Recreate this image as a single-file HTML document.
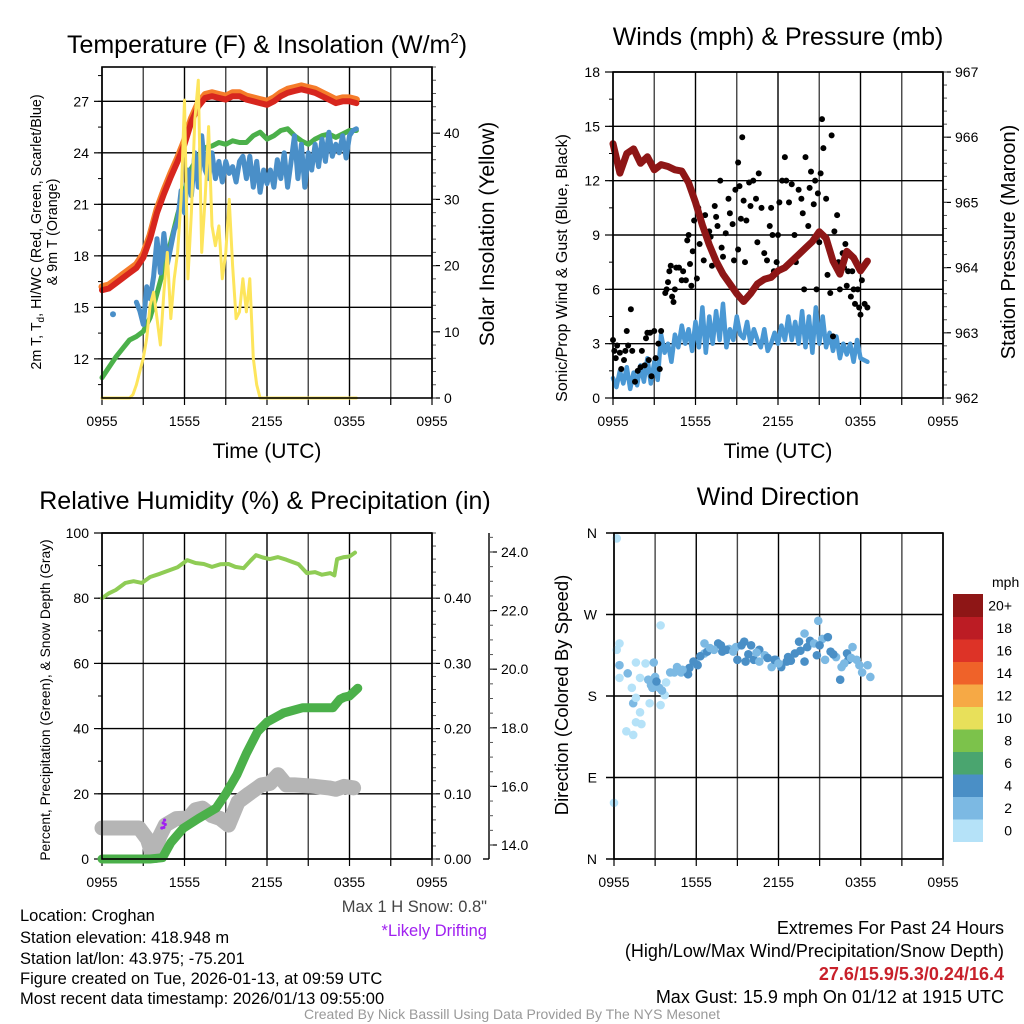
<!DOCTYPE html>
<html><head><meta charset="utf-8">
<style>
html,body{margin:0;padding:0;background:#fff;}
svg{display:block;font-family:"Liberation Sans",Arial,sans-serif;}
</style></head>
<body>
<svg id="c" width="1024" height="1024" viewBox="0 0 1024 1024" xmlns="http://www.w3.org/2000/svg">
<rect x="0" y="0" width="1024" height="1024" fill="#fff"/>
<!-- titles -->
<text x="267" y="53" font-size="25" text-anchor="middle">Temperature (F) &amp; Insolation (W/m<tspan font-size="15" dy="-10">2</tspan><tspan dy="10">)</tspan></text>
<text x="778" y="45" font-size="25" text-anchor="middle">Winds (mph) &amp; Pressure (mb)</text>
<text x="265" y="509" font-size="25" text-anchor="middle">Relative Humidity (%) &amp; Precipitation (in)</text>
<text x="778" y="505" font-size="25" text-anchor="middle">Wind Direction</text>
<!-- axis titles -->
<text x="267" y="458" font-size="21" text-anchor="middle">Time (UTC)</text>
<text x="778" y="458" font-size="21" text-anchor="middle">Time (UTC)</text>
<text transform="translate(41,232) rotate(-90)" font-size="14.3" text-anchor="middle">2m T, T<tspan font-size="10" dy="3">d</tspan><tspan dy="-3">, HI/WC (Red, Green, Scarlet/Blue)</tspan></text>
<text transform="translate(57,232) rotate(-90)" font-size="14.3" text-anchor="middle">&amp; 9m T (Orange)</text>
<text transform="translate(494,234) rotate(-90)" font-size="21" text-anchor="middle">Solar Insolation (Yellow)</text>
<text transform="translate(567,268) rotate(-90)" font-size="16" text-anchor="middle">Sonic/Prop Wind &amp; Gust (Blue, Black)</text>
<text transform="translate(1015,242) rotate(-90)" font-size="20" text-anchor="middle">Station Pressure (Maroon)</text>
<text transform="translate(50,700) rotate(-90)" font-size="13.8" text-anchor="middle">Percent, Precipitation (Green), &amp; Snow Depth (Gray)</text>
<text transform="translate(568,695) rotate(-90)" font-size="18.5" text-anchor="middle">Direction (Colored By Speed)</text>
<!-- footer -->
<g font-size="16.5">
<text x="20" y="921">Location: Croghan</text>
<text x="20" y="943">Station elevation: 418.948 m</text>
<text x="20" y="964">Station lat/lon: 43.975; -75.201</text>
<text x="20" y="984">Figure created on Tue, 2026-01-13, at 09:59 UTC</text>
<text x="20" y="1004">Most recent data timestamp: 2026/01/13 09:55:00</text>
</g>
<text x="487" y="912" font-size="16.5" fill="#444" text-anchor="end">Max 1 H Snow: 0.8"</text>
<text x="487" y="936" font-size="16.5" fill="#a020f0" text-anchor="end">*Likely Drifting</text>
<g font-size="18" text-anchor="end">
<text x="1004" y="934">Extremes For Past 24 Hours</text>
<text x="1004" y="957">(High/Low/Max Wind/Precipitation/Snow Depth)</text>
<text x="1004" y="980" fill="#c8202a" font-weight="bold">27.6/15.9/5.3/0.24/16.4</text>
<text x="1004" y="1003">Max Gust: 15.9 mph On 01/12 at 1915 UTC</text>
</g>
<text x="512" y="1019" font-size="14" fill="#999" text-anchor="middle">Created By Nick Bassill Using Data Provided By The NYS Mesonet</text>
<g id="plots"></g>
</svg>
<script>
// ---- data (hours since 0955 UTC) ----
const xTickLabels = ["0955","1555","2155","0355","0955"];
const tempHours = [0,0.5,1,1.5,2,2.5,3,3.5,4,4.5,5,5.5,6,6.5,7,7.5,8,8.5,9,9.5,10,10.5,11,11.5,12,12.5,13,13.5,14,14.5,15,15.5,16,16.5,17,17.5,18,18.5];
const temp2m = [16.0,16.1,16.4,16.7,17.0,17.3,17.9,19.0,20.5,21.6,22.6,23.5,24.5,25.8,26.7,27.2,27.3,27.2,27.1,27.3,27.3,27.1,27.0,26.9,26.8,27.0,27.3,27.5,27.6,27.7,27.6,27.5,27.3,27.1,26.9,27.0,27.0,26.9];
const temp9m = [16.2,16.3,16.6,16.9,17.2,17.5,18.1,19.2,20.7,21.8,22.8,23.7,24.7,26.0,26.9,27.4,27.5,27.4,27.3,27.5,27.5,27.3,27.2,27.1,27.0,27.2,27.5,27.7,27.8,27.9,27.8,27.7,27.5,27.3,27.1,27.2,27.2,27.1];
const dewpoint = [10.9,11.5,12.1,12.6,13.1,13.3,13.6,14.4,15.8,17.3,18.8,20.4,21.8,23.1,23.8,24.3,24.4,24.6,24.5,24.7,24.6,24.6,25.0,25.2,24.8,25.0,25.3,25.4,25.0,24.7,24.5,24.8,25.0,25.1,24.9,25.1,25.3,25.3];
const wcStart = 2.5, wcStep = 0.25;
const windChill = [15.3,14.8,14.0,16.2,15.5,16.8,19.0,17.0,19.3,17.5,18.5,19.5,20.0,21.8,20.5,23.0,21.5,24.0,22.0,25.0,23.0,22.5,24.0,22.5,23.5,22.3,23.5,22.8,23.2,22.3,23.5,23.8,22.5,23.8,22.0,23.5,21.7,23.0,22.2,23.0,22.0,23.6,22.5,24.0,22.0,23.5,25.0,22.5,24.5,22.0,24.0,23.0,24.5,23.2,24.8,23.5,25.2,23.8,24.5,24.0,25.0,23.7,25.0,25.3,25.4];
const wcIsoHours = [0.8];
const wcIsoValues = [14.6];
const solarStart = 0, solarStep = 0.25;
const solar = [0,0,0,0,0,0,0,0,0,0.5,2,4,6,9,14,16,12,8,16,22,12,18,22,30,45,18,28,42,48,22,30,41,26,23,26,18,22,30,20,12,13,18,13,18,6,2,0,0,0,0,0,0,0,0,0,0,0,0,0,0,0,0,0,0,0,0,0,0,0,0,0,0,0,0,0];
const tempTicks = [12,15,18,21,24,27];
const solarTicks = [0,10,20,30,40];

const windStart = 0, windStep = 0.25;
const windSpeed = [1.1,0.6,1.5,0.8,1.7,0.5,1.4,0.7,1.8,0.9,2.2,0.8,2.0,1.0,3.5,2.5,3.0,2.0,3.5,2.8,4.0,3.0,3.8,2.6,4.2,2.8,5.0,2.5,4.5,3.0,4.8,3.2,5.2,2.8,3.8,3.2,4.5,3.5,3.3,4.2,3.0,3.8,3.2,2.8,3.8,2.6,3.0,3.6,3.0,4.0,3.2,4.5,3.2,4.2,3.0,4.8,2.8,4.5,2.5,5.0,3.0,4.5,2.8,3.6,2.6,3.4,2.2,3.0,2.4,3.0,2.0,3.2,2.2,2.1,2.0];
const pressHours = tempHours;
const pressure = [965.9,965.45,965.75,965.82,965.6,965.7,965.5,965.58,965.55,965.5,965.48,965.3,965.0,964.65,964.35,964.1,963.9,963.75,963.6,963.48,963.6,963.75,963.82,963.85,963.95,964.0,964.1,964.2,964.3,964.4,964.55,964.45,964.1,963.9,964.25,964.15,963.95,964.1];
const gustHours = [0,0.1,0.2,0.3,0.5,0.6,0.8,0.9,1.0,1.1,1.3,1.4,1.6,1.8,2.0,2.1,2.3,2.4,2.5,2.6,2.7,2.8,3.0,3.1,3.3,3.5,3.4,3.8,3.9,4.0,4.1,4.2,4.3,4.4,4.5,4.6,4.8,5.0,5.1,5.3,5.4,5.5,5.6,5.7,5.8,5.9,6.1,6.2,6.3,6.4,6.6,6.7,6.8,7.0,7.1,7.2,7.4,7.5,7.6,7.8,7.9,8.0,8.2,8.4,8.5,8.7,8.9,9.1,9.2,9.3,9.4,9.5,9.7,9.9,10.0,10.2,10.4,10.6,10.8,11.0,11.2,11.4,11.5,11.7,11.9,12.0,12.1,12.3,12.5,12.6,12.8,13.0,13.2,13.3,13.5,13.7,13.8,14.0,14.2,14.3,14.4,14.6,14.7,14.9,15.0,15.1,15.2,15.3,15.5,15.6,15.8,15.9,16.1,16.3,16.4,16.5,16.7,16.8,17.0,17.1,17.3,17.4,17.5,17.6,17.8,17.9,18.0,18.1,18.3,18.5,14.8,13.9,9.6,9.1,8.8,10.5,11.6,16.0,16.9];
const gustValues = [3.2,2.6,2.2,2.9,2.5,1.6,2.1,2.6,3.7,2.9,4.9,2.6,0.9,1.5,1.7,2.6,1.8,3.3,3.6,2.1,3.6,1.2,3.7,2.2,3.0,3.7,1.6,5.8,6.0,6.4,7.0,7.3,5.6,5.3,6.0,7.2,7.2,6.5,7.0,6.5,8.7,9.0,7.4,6.2,8.1,9.8,6.6,10.5,8.5,10.0,7.6,10.1,9.1,9.2,8.9,7.3,10.6,10.0,9.5,12.0,8.3,7.8,9.1,11.0,10.2,9.6,11.5,13.0,11.7,9.9,14.4,10.9,9.8,11.9,10.6,12.0,11.0,12.4,10.5,8.0,7.6,9.5,10.5,7.0,7.5,9.0,10.8,12.0,13.3,12.0,10.8,11.8,9.0,7.5,11.5,11.0,10.2,13.3,9.5,11.6,12.5,10.7,12.0,11.3,8.6,12.4,15.4,13.8,11.0,6.8,5.8,14.5,9.2,10.1,7.5,6.0,8.0,7.2,6.2,7.0,5.6,7.0,6.0,5.2,6.0,5.0,4.6,6.5,5.2,5.0,6.0,6.0,7.5,8.2,7.6,8.6,9.0,3.4,8.5];
const windTicks = [0,3,6,9,12,15,18];
const pressTicks = [962,963,964,965,966,967];

const rhHours = [0,0.5,1,1.7,2.3,2.9,3.5,4.2,4.9,5.5,6.2,6.8,7.4,8.0,8.6,9.2,9.7,10.3,10.8,11.2,11.7,12.2,12.8,13.4,13.9,14.3,14.9,15.5,16.0,16.6,16.9,17.1,17.6,18.0,18.4];
const rh = [80,81.5,82.5,84.7,85.2,84.7,86.5,87.5,88.6,89.5,91.7,90.8,90.5,89.6,90.4,90.5,89.6,89.2,91.5,93.2,92.5,92.0,92.6,91.8,91.0,90.4,87.7,88.0,87.2,87.7,87.0,92.0,92.6,92.8,94.0];
const precipHours = [0,2,3.5,4.4,5.0,5.9,7.0,8.3,9.0,9.8,10.5,11.3,12.0,13.2,14.6,16.8,17.3,17.6,18.0,18.6];
const precip = [0,0,0,0.002,0.025,0.047,0.062,0.078,0.1,0.129,0.162,0.195,0.21,0.224,0.232,0.232,0.245,0.248,0.25,0.262];
const snowHours = [0,1.5,2.7,3.3,3.7,4.2,4.6,5.4,6.3,6.8,7.3,8.0,8.6,9.2,9.9,10.7,11.6,12.2,12.8,13.4,14.0,15.5,16.5,17.0,17.6,18.3];
const snowDepth = [14.58,14.58,14.58,14.2,13.6,14.3,14.68,14.9,14.92,15.2,15.26,15.0,14.9,14.68,15.47,15.75,16.05,16.1,16.4,16.05,16.05,16.0,15.95,15.9,16.0,15.95];
const driftHours = [4.35,4.45,4.55,4.6,4.5];
const driftDepth = [14.58,14.75,14.85,14.7,14.6];
const rhTicks = [0,20,40,60,80,100];
const precipTicks = [0.00,0.10,0.20,0.30,0.40];
const snowTicks = [14.0,16.0,18.0,20.0,22.0,24.0];

const dirHours = [0.2,0,0.4,0.2,0.4,0.4,1.0,1.6,2.3,2.9,3.4,1.9,2.5,3.0,2.8,3.3,1.3,1.4,1.6,1.9,3.7,3.4,2.6,1.6,2.0,0.9,1.4,3.8,4.1,4.4,4.9,5.5,5.4,6.0,6.6,6.6,6.8,7.6,7.9,8.4,8.9,9.0,9.5,9.6,10.0,10.2,10.6,11.0,11.5,11.8,12.2,12.7,13.2,13.5,13.9,13.9,14.3,14.9,14.8,15.2,15.6,15.8,16.2,16.5,17.0,17.4,17.1,17.7,18.1,18.5,18.7,15.4,16.6,11.7,12.6,10.6,7.3,6.1,4.6,5.0,5.8,6.3,7.0,7.8,8.2,8.7,9.3,9.8,10.4,11.2,12.0,12.9,13.6,14.1,14.6,15.0,16.0,16.8,17.3,17.9,2.7,3.1,3.5];
const dirDegrees = [354,62,238,231,214,200,205,217,216,217,258,200,198,201,189,189,189,172,178,162,181,170,172,151,149,141,137,195,206,206,206,211,204,216,227,238,229,238,229,232,234,220,240,218,236,220,231,225,212,220,212,223,227,240,249,218,241,263,225,243,245,229,223,198,227,234,220,220,206,214,201,220,212,220,218,218,231,214,212,209,218,224,233,236,231,229,236,226,228,222,216,219,230,234,238,236,226,216,222,214,192,196,186];
const dirSpeeds = [0.5,1,0.5,0.5,2.5,0.5,2.5,0.5,0.5,3,0.5,0.5,3,2.5,3,3,0.5,3,0.5,0.5,0.5,0.5,0.5,0.5,0.5,0.5,0.5,0.5,2.5,2.5,2.5,4.2,4.2,2.5,3,2.5,4.2,4.2,4.2,3,2.5,4.2,4.2,4.2,4.2,4.2,4.2,2.5,2.5,4.2,4.2,4.2,4.2,4.2,2.5,4.2,4.2,2.5,4.2,2.5,4.2,4.2,2.5,4.2,4.2,2.5,4.2,2.5,2.5,2.5,2.5,2.5,2.5,4.2,4.2,2.5,2.5,4.2,2.5,2.5,4.2,4.2,2.5,4.2,4.2,2.5,4.2,4.2,2.5,4.2,2.5,4.2,4.2,4.2,2.5,4.2,4.2,2.5,2.5,2.5,3,4.2,2.5];
const dirTickLabels = ["N","E","S","W","N"];
const dirTickValues = [0,90,180,270,360];
const speedBinLabels = ["0","2","4","6","8","10","12","14","16","18","20+"];
const speedBinColors = ["#b5e2f8","#7cb9e3","#4a8fc6","#4aa56f","#7cc24b","#e8e05a","#f6a945","#ef6229","#dd3327","#bc1c24","#8e1616"];

// ---- helpers ----
const NS = "http://www.w3.org/2000/svg";
const root = document.getElementById("plots");
function mk(tag, attrs, parent) {
  const e = document.createElementNS(NS, tag);
  for (const k in attrs) e.setAttribute(k, attrs[k]);
  (parent || root).appendChild(e);
  return e;
}
function scale(d0, d1, r0, r1) { return v => r0 + (v - d0) * (r1 - r0) / (d1 - d0); }
function pathD(xs, ys, fx, fy) {
  let d = "";
  for (let i = 0; i < xs.length; i++) d += (i ? "L" : "M") + fx(xs[i]).toFixed(1) + "," + fy(ys[i]).toFixed(1);
  return d;
}
function frame(P, name) {
  const g = mk("g", {});
  
  
  for (let h = 0; h <= 24; h += 3) {
    const x = P.fx(h);
    mk("line", {x1: x, y1: P.t, x2: x, y2: P.b, stroke: (h % 6 ? "#444" : "#000"), "stroke-width": 1.4}, g);
    mk("line", {x1: x, y1: P.b, x2: x, y2: P.b + 7, stroke: "#000", "stroke-width": 1.2}, g);
  }
  xTickLabels.forEach((lab, i) => {
    const t = mk("text", {x: P.fx(i * 6), y: P.b + 28, "font-size": 14, "text-anchor": "middle"});
    t.textContent = lab;
    
    
  });
  return g;
}
function border(P) {
  mk("rect", {x: P.l, y: P.t, width: P.r - P.l, height: P.b - P.t, fill: "none", stroke: "#000", "stroke-width": 1.6});
}
function leftAxis(P, ticks, fy, fmt, name, minorStep) {
  const g = mk("g", {});
  
  
  ticks.forEach(v => {
    const y = fy(v);
    mk("line", {x1: P.l, y1: y, x2: P.r, y2: y, stroke: "#000", "stroke-width": 1.4}, g);
    mk("line", {x1: P.l - 8, y1: y, x2: P.l, y2: y, stroke: "#000", "stroke-width": 1.2}, g);
    const t = mk("text", {x: P.l - 13, y: y + 5, "font-size": 14, "text-anchor": "end"}, g);
    t.textContent = fmt(v);
  });
  if (minorStep) {
    for (let v = ticks[0] - minorStep; v < ticks[ticks.length - 1] + 3 * minorStep; v += minorStep) {
      const y = fy(v);
      if (y < P.t - 0.5 || y > P.b + 0.5) continue;
      mk("line", {x1: P.l - 4, y1: y, x2: P.l, y2: y, stroke: "#000", "stroke-width": 1}, g);
    }
  }
}
function rightAxis(x, top, bot, ticks, fy, fmt, name, minorStep, dir) {
  const g = mk("g", {});
  
  
  const d = dir || 1;
  ticks.forEach(v => {
    const y = fy(v);
    mk("line", {x1: x, y1: y, x2: x + 8 * d, y2: y, stroke: "#000", "stroke-width": 1.2}, g);
    const t = mk("text", {x: x + 12, y: y + 5, "font-size": 14}, g);
    t.textContent = fmt(v);
  });
  if (minorStep) {
    for (let v = ticks[0] - 5 * minorStep; v < ticks[ticks.length - 1] + 6 * minorStep; v += minorStep) {
      const y = fy(v);
      if (y < top - 0.5 || y > bot + 0.5) continue;
      mk("line", {x1: x, y1: y, x2: x + 4 * d, y2: y, stroke: "#555", "stroke-width": 1}, g);
    }
  }
}
function line(xs, ys, fx, fy, color, w, name) {
  const p = mk("path", {d: pathD(xs, ys, fx, fy), fill: "none", stroke: color, "stroke-width": w, "stroke-linejoin": "round", "stroke-linecap": "round"});
  
  
  return p;
}
function stepHours(start, step, n) { const a = []; for (let i = 0; i < n; i++) a.push(start + i * step); return a; }

// ---- Panel 1: temperature ----
{
  const P = {l: 102, r: 432, t: 67, b: 398};
  P.fx = scale(0, 24, P.l, P.r);
  const fy = scale(9.72, 29.0, P.b, P.t);
  const fs = scale(0, 50, P.b, P.t);
  frame(P, "temp");
  leftAxis(P, tempTicks, fy, v => String(v), "temp-y-axis", 1.5);
  rightAxis(P.r, P.t, P.b, solarTicks, fs, v => String(v), "insolation-y-axis", 2);
  line(tempHours, temp9m, P.fx, fy, "#f57c2a", 7, "temp-9m-line");
  line(tempHours, temp2m, P.fx, fy, "#d7261e", 6, "temp-2m-line");
  line(tempHours, dewpoint, P.fx, fy, "#4bb04a", 5, "dewpoint-line");
  line(stepHours(wcStart, wcStep, windChill.length), windChill, P.fx, fy, "#4a8fc8", 5, "wind-chill-line");
  wcIsoHours.forEach((h, i) => {
    const c = mk("circle", {cx: P.fx(h), cy: fy(wcIsoValues[i]), r: 3, fill: "#4a8fc8"});
    
    
  });
  line(stepHours(solarStart, solarStep, solar.length), solar, P.fx, fs, "#fde55c", 3, "insolation-line");
  border(P);
}
// ---- Panel 2: winds ----
{
  const P = {l: 613, r: 943, t: 72, b: 398};
  P.fx = scale(0, 24, P.l, P.r);
  const fy = scale(0, 18, P.b, P.t);
  const fp = scale(962, 967, P.b, P.t);
  frame(P, "wind");
  leftAxis(P, windTicks, fy, v => String(v), "wind-y-axis", 1.5);
  rightAxis(P.r, P.t, P.b, pressTicks, fp, v => String(v), "pressure-y-axis", 0.2);
  line(stepHours(windStart, windStep, windSpeed.length), windSpeed, P.fx, fy, "#4a98d4", 4.5, "wind-speed-line");
  gustHours.forEach((h, i) => {
    const c = mk("circle", {cx: P.fx(h), cy: fy(gustValues[i]), r: 3, fill: "#000"});
    
    
  });
  line(pressHours, pressure, P.fx, fp, "#8e1616", 7, "pressure-line");
  border(P);
}
// ---- Panel 3: humidity/precip/snow ----
{
  const P = {l: 102, r: 432, t: 533, b: 859};
  P.fx = scale(0, 24, P.l, P.r);
  const fy = scale(0, 100, P.b, P.t);
  const fpr = scale(0, 0.5, P.b, P.t);
  const fsn = scale(14, 24, 845, 552);
  frame(P, "humidity");
  leftAxis(P, rhTicks, fy, v => String(v), "humidity-y-axis", 10);
  rightAxis(P.r, P.t, P.b, precipTicks, fpr, v => v.toFixed(2), "precip-y-axis", 0.02);
  mk("line", {x1: 489, y1: 533, x2: 489, y2: 859, stroke: "#000", "stroke-width": 1.4});
  rightAxis(489, 533, 859, snowTicks, fsn, v => v.toFixed(1), "snow-y-axis", 0.5, 1);
  mk("line", {x1: 483, y1: 859, x2: 489, y2: 859, stroke: "#000", "stroke-width": 1.4});
  const cl = mk("clipPath", {id: "cp3"}); mk("rect", {x: P.l - 8, y: P.t, width: P.r - P.l + 8, height: P.b - P.t + 4}, cl);
  const s = line(snowHours, snowDepth, P.fx, fsn, "#b5b5b5", 15, "snow-depth-line");
  s.setAttribute("clip-path", "url(#cp3)");
  driftHours.forEach((h, i) => {
    const c = mk("circle", {cx: P.fx(h), cy: fsn(driftDepth[i]), r: 1.6, fill: "#a020f0"});
    
    
  });
  line(precipHours, precip, P.fx, fpr, "#4bb04a", 9, "precip-line");
  line(rhHours, rh, P.fx, fy, "#8fcc55", 4, "humidity-line");
  border(P);
}
// ---- Panel 4: wind direction ----
{
  const P = {l: 614, r: 943, t: 533, b: 859};
  P.fx = scale(0, 24, P.l, P.r);
  const fy = scale(0, 360, P.b, P.t);
  frame(P, "direction");
  const g = mk("g", {});
  
  
  dirTickValues.forEach((v, i) => {
    const y = fy(v);
    mk("line", {x1: P.l - 8, y1: y, x2: P.r, y2: y, stroke: "#000", "stroke-width": 1.4}, g);
    const t = mk("text", {x: P.l - 17, y: y + 5, "font-size": 14, "text-anchor": "end"}, g);
    t.textContent = dirTickLabels[i];
  });
  dirHours.forEach((h, i) => {
    const bin = Math.min(10, Math.floor(dirSpeeds[i] / 2));
    const c = mk("circle", {cx: P.fx(h), cy: fy(dirDegrees[i]), r: 4.3, fill: speedBinColors[bin]});
    
    
  });
  border(P);
  // colorbar
  const cb = mk("g", {});
  
  
  const top = 594, bh = 22.5;
  const mt = mk("text", {x: 992, y: 587, "font-size": 14}, cb); mt.textContent = "mph";
  speedBinLabels.forEach((lab, i) => {
    const y = top + (10 - i) * bh;
    mk("rect", {x: 953, y: y, width: 30, height: bh + 0.5, fill: speedBinColors[i]}, cb);
    const t = mk("text", {x: 1012, y: y + bh / 2 + 5, "font-size": 14, "text-anchor": "end"}, cb);
    t.textContent = lab;
  });
}
</script>
</body></html>
